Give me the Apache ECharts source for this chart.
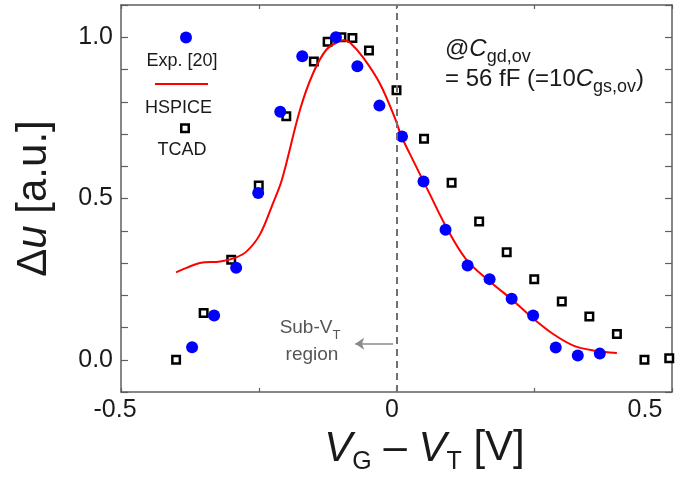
<!DOCTYPE html>
<html>
<head>
<meta charset="utf-8">
<script src="https://cdn.jsdelivr.net/npm/echarts@6/dist/echarts.min.js"></script>
<style>
  html, body { margin: 0; padding: 0; background: #ffffff; }
  #chart { width: 694px; height: 484px; }
</style>
</head>
<body>
<div id="chart"></div>
<script>
// Measured points: normalized response versus gate overdrive
const expV = [-0.371, -0.331, -0.291, -0.251, -0.211, -0.171, -0.110, -0.071, -0.031, 0.010,
              0.049, 0.089, 0.129, 0.169, 0.209, 0.248, 0.289, 0.329, 0.369];
const expU = [0.039, 0.137, 0.285, 0.517, 0.769, 0.941, 1.000, 0.910, 0.788, 0.692,
              0.553, 0.403, 0.292, 0.250, 0.189, 0.137, 0.038, 0.013, 0.019];

// Circuit simulation curve
const hspiceV = [-0.400, -0.381, -0.357, -0.320, -0.293, -0.272, -0.248, -0.224, -0.208,
                 -0.175, -0.151, -0.127, -0.103, -0.094, -0.084, -0.060, -0.030, -0.003, 0.009,
                 0.031, 0.058, 0.091, 0.127, 0.170, 0.212, 0.248, 0.285, 0.321, 0.357, 0.400];
const hspiceU = [0.271, 0.285, 0.300, 0.305, 0.316, 0.336, 0.388, 0.486, 0.558,
                 0.776, 0.890, 0.962, 0.988, 0.991, 0.983, 0.936, 0.856, 0.750, 0.693,
                 0.615, 0.522, 0.409, 0.310, 0.242, 0.183, 0.128, 0.079, 0.044, 0.029, 0.021];

// Device simulation points
const tcadV = [-0.40, -0.35, -0.30, -0.25, -0.20, -0.15, -0.125, -0.10, -0.08, -0.05,
               0.00, 0.05, 0.10, 0.15, 0.20, 0.25, 0.30, 0.35, 0.40, 0.45, 0.495];
const tcadU = [0.000, 0.145, 0.310, 0.540, 0.755, 0.925, 0.986, 1.000, 0.998, 0.959,
               0.836, 0.685, 0.549, 0.429, 0.333, 0.250, 0.181, 0.134, 0.080, 0.000, 0.005];

// Tick labels shown on the axes
const xTickLabels = ['-0.5', '0', '0.5'];
const yTickLabels = ['0.0', '0.5', '1.0'];

// Threshold marker and the sub-threshold arrow (data coordinates)
const thresholdV = 0;
const arrowFrom = [-0.006, 0.05];
const arrowTo = [-0.075, 0.05];

const FONT = "'Liberation Sans', Arial, sans-serif";
const TXT = '#1a1a1a';
const FRAME = '#5f5f5f';

const zip = (xs, ys) => xs.map((x, i) => [x, ys[i]]);

const frameLine = { show: true, onZero: false, lineStyle: { color: FRAME, width: 1.5 } };

const xFormatter = v => {
  const s = (Math.round(v * 100) / 100).toString();
  if (!xTickLabels.includes(s)) return '';
  if (s === '-0.5') return '{a|' + s + '}';
  if (s === '0') return '{b|' + s + '}';
  return '{c|' + s + '}';
};
const yFormatter = v => {
  const s = (Math.round(v * 10) / 10).toFixed(1);
  return yTickLabels.includes(s) ? s : '';
};

const chart = echarts.init(document.getElementById('chart'), null, { renderer: 'canvas' });

const noteRich = {
  t: { fontFamily: FONT, fontSize: 24, lineHeight: 24, verticalAlign: 'bottom', padding: [0, 0, 5, 0], fill: TXT },
  c: { fontFamily: FONT, fontSize: 24, fontStyle: 'italic', lineHeight: 24, verticalAlign: 'bottom', padding: [0, 0, 5, 0], fill: TXT },
  s: { fontFamily: FONT, fontSize: 18, lineHeight: 18, verticalAlign: 'bottom', fill: TXT }
};

const option = {
  animation: false,
  backgroundColor: '#ffffff',
  grid: { left: 121, top: 5, right: 22, bottom: 92, containLabel: false, outerBoundsMode: 'none' },
  xAxis: [
    {
      type: 'value', position: 'bottom', min: -0.5, max: 0.5, interval: 0.25,
      axisLine: frameLine,
      axisTick: { show: true, inside: true, length: 4, lineStyle: { color: FRAME, width: 1.2 } },
      splitLine: { show: false },
      axisLabel: {
        show: true, margin: 6, color: TXT, fontFamily: FONT, fontSize: 25,
        formatter: xFormatter, showMinLabel: true, showMaxLabel: true,
        rich: {
          a: { fontFamily: FONT, fontSize: 25, color: TXT, padding: [0, 12, 0, 0] },
          b: { fontFamily: FONT, fontSize: 25, color: TXT, padding: [0, 9, 0, 0] },
          c: { fontFamily: FONT, fontSize: 25, color: TXT, padding: [0, 54, 0, 0] }
        }
      },
      name: '{i|V}{s|G}{n| – }{i|V}{s|T}{n| [V]}',
      nameLocation: 'middle', nameGap: 34,
      nameTextStyle: {
        color: TXT, fontFamily: FONT, fontSize: 42, padding: [0, 0, 0, 56],
        rich: {
          i: { fontFamily: FONT, fontSize: 42, fontStyle: 'italic', lineHeight: 42, verticalAlign: 'bottom', padding: [0, 0, 5, 0], color: TXT },
          n: { fontFamily: FONT, fontSize: 42, lineHeight: 42, verticalAlign: 'bottom', padding: [0, 0, 5, 0], color: TXT },
          s: { fontFamily: FONT, fontSize: 25, lineHeight: 25, verticalAlign: 'bottom', color: TXT }
        }
      }
    },
    {
      type: 'value', position: 'top', min: -0.5, max: 0.5, interval: 0.25,
      axisLine: frameLine,
      axisTick: { show: true, inside: true, length: 4, lineStyle: { color: FRAME, width: 1.2 } },
      axisLabel: { show: false }, splitLine: { show: false }
    }
  ],
  yAxis: [
    {
      type: 'value', position: 'left', min: -0.1, max: 1.1, interval: 0.1,
      axisLine: frameLine,
      axisTick: { show: true, inside: true, length: 7, lineStyle: { color: FRAME, width: 1.2 } },
      splitLine: { show: false },
      axisLabel: { show: true, margin: 8, color: TXT, fontFamily: FONT, fontSize: 25, formatter: yFormatter },
      name: '{d|Δ}{i|u}{n| [a.u.]}',
      nameLocation: 'middle', nameGap: 66,
      nameTextStyle: {
        color: TXT, fontFamily: FONT, fontSize: 42,
        rich: {
          d: { fontFamily: FONT, fontSize: 42, color: TXT },
          i: { fontFamily: FONT, fontSize: 42, fontStyle: 'italic', color: TXT },
          n: { fontFamily: FONT, fontSize: 42, color: TXT }
        }
      }
    },
    {
      type: 'value', position: 'right', min: -0.1, max: 1.1, interval: 0.1,
      axisLine: frameLine,
      axisTick: { show: true, inside: true, length: 7, lineStyle: { color: FRAME, width: 1.2 } },
      axisLabel: { show: false }, splitLine: { show: false }
    }
  ],
  series: [
    {
      name: 'TCAD', type: 'scatter', xAxisIndex: 0, yAxisIndex: 0, z: 2,
      data: zip(tcadV, tcadU),
      symbol: 'rect', symbolSize: 7.5,
      itemStyle: { color: '#ffffff', borderColor: '#000000', borderWidth: 2.5, opacity: 1 },
      markLine: {
        silent: true, symbol: ['none', 'none'],
        label: { show: false },
        lineStyle: { color: '#707070', width: 2, type: [7, 5] },
        data: [{ xAxis: thresholdV }]
      }
    },
    {
      name: 'HSPICE', type: 'line', xAxisIndex: 0, yAxisIndex: 0, z: 3,
      data: zip(hspiceV, hspiceU),
      smooth: 0.35, showSymbol: false, symbol: 'none',
      lineStyle: { color: '#ff0000', width: 2 },
      markLine: {
        silent: true, symbol: ['none', 'arrow'], symbolSize: [9, 9],
        label: { show: false },
        lineStyle: { color: '#8a8a8a', width: 1.5, type: 'solid' },
        data: [[{ coord: arrowFrom }, { coord: arrowTo }]]
      }
    },
    {
      name: 'Exp. [20]', type: 'scatter', xAxisIndex: 0, yAxisIndex: 0, z: 4,
      data: zip(expV, expU),
      symbol: 'circle', symbolSize: 12,
      itemStyle: { color: '#0000ff', opacity: 1 }
    }
  ],
  graphic: [
    // legend block
    { type: 'circle', shape: { cx: 186, cy: 37.5, r: 6 }, style: { fill: '#0000ff' }, z: 10 },
    { type: 'text', z: 10, style: { text: 'Exp. [20]', x: 182, y: 61, font: '18px ' + FONT, fill: TXT,
      textAlign: 'center', textVerticalAlign: 'middle', align: 'center', verticalAlign: 'middle' } },
    { type: 'line', z: 10, shape: { x1: 155, y1: 84, x2: 208, y2: 84 }, style: { stroke: '#ff0000', lineWidth: 2 } },
    { type: 'text', z: 10, style: { text: 'HSPICE', x: 178.5, y: 108, font: '18px ' + FONT, fill: TXT,
      textAlign: 'center', textVerticalAlign: 'middle', align: 'center', verticalAlign: 'middle' } },
    { type: 'rect', z: 10, shape: { x: 181.25, y: 124.5, width: 7.5, height: 7.5 },
      style: { fill: '#ffffff', stroke: '#000000', lineWidth: 2.5 } },
    { type: 'text', z: 10, style: { text: 'TCAD', x: 182, y: 150, font: '18px ' + FONT, fill: TXT,
      textAlign: 'center', textVerticalAlign: 'middle', align: 'center', verticalAlign: 'middle' } },

    // overlap capacitance note
    { type: 'text', z: 10, style: {
      text: '{t|@}{c|C}{s|gd,ov}', x: 445, y: 54, fill: TXT,
      textAlign: 'left', textVerticalAlign: 'middle', align: 'left', verticalAlign: 'middle',
      rich: noteRich } },
    { type: 'text', z: 10, style: {
      text: '{t|= 56 fF (=10}{c|C}{s|gs,ov}{t|)}', x: 445, y: 84, fill: TXT,
      textAlign: 'left', textVerticalAlign: 'middle', align: 'left', verticalAlign: 'middle',
      rich: noteRich } },

    // sub-threshold region note
    { type: 'text', z: 10, style: {
      text: '{t|Sub-V}{s|T}', x: 310, y: 332, fill: '#555555',
      textAlign: 'center', textVerticalAlign: 'middle', align: 'center', verticalAlign: 'middle',
      rich: {
        t: { fontFamily: FONT, fontSize: 19, lineHeight: 19, verticalAlign: 'bottom', padding: [0, 0, 4, 0], fill: '#555555' },
        s: { fontFamily: FONT, fontSize: 13, lineHeight: 13, verticalAlign: 'bottom', fill: '#555555' }
      } } },
    { type: 'text', z: 10, style: { text: 'region', x: 312, y: 355, font: '19px ' + FONT, fill: '#555555',
      textAlign: 'center', textVerticalAlign: 'middle', align: 'center', verticalAlign: 'middle' } }
  ]
};

chart.setOption(option);
</script>
</body>
</html>
